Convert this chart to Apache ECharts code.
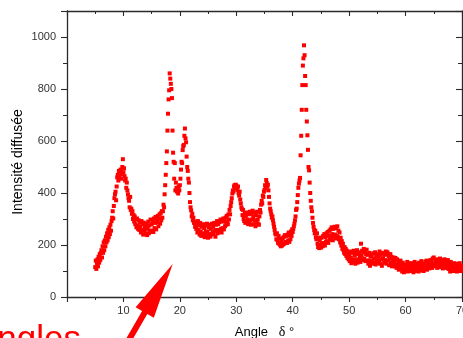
<!DOCTYPE html>
<html>
<head>
<meta charset="utf-8">
<script src="https://cdn.jsdelivr.net/npm/echarts@6/dist/echarts.min.js"></script>
<style>
html,body{margin:0;padding:0;background:#fff;}
#chart{width:463px;height:338px;}
</style>
</head>
<body>
<div id="chart"></div>
<script>
// Angle values (degrees)
const angles05 = [
5.0,5.1,5.2,5.3,5.4,5.5,5.6,5.7,5.8,5.9,
6.0,6.1,6.2,6.3,6.4,6.5,6.6,6.7,6.8,6.9,
7.0,7.1,7.2,7.3,7.4,7.5,7.6,7.7,7.8,7.9,
8.0,8.1,8.2,8.3,8.4,8.5,8.6,8.7,8.8,8.9,
9.0,9.1,9.2,9.3,9.4,9.5,9.6,9.7,9.8,9.9];
const angles10 = [
10.0,10.1,10.2,10.3,10.4,10.5,10.6,10.7,10.8,10.9,
11.0,11.1,11.2,11.3,11.4,11.5,11.6,11.7,11.8,11.9,
12.0,12.1,12.2,12.3,12.4,12.5,12.6,12.7,12.8,12.9,
13.0,13.1,13.2,13.3,13.4,13.5,13.6,13.7,13.8,13.9,
14.0,14.1,14.2,14.3,14.4,14.5,14.6,14.7,14.8,14.9,
15.0,15.1,15.2,15.3,15.4,15.5,15.6,15.7,15.8,15.9,
16.0,16.1,16.2,16.3,16.4,16.5,16.6,16.7,16.8,16.9,
17.0,17.1,17.2,17.3,17.4,17.5,17.6,17.7,17.8,17.9,
18.0,18.1,18.2,18.3,18.4,18.5,18.6,18.7,18.8,18.9,
19.0,19.1,19.2,19.3,19.4,19.5,19.6,19.7,19.8,19.9];
const angles20 = [
20.0,20.1,20.2,20.3,20.4,20.5,20.6,20.7,20.8,20.9,
21.0,21.1,21.2,21.3,21.4,21.5,21.6,21.7,21.8,21.9,
22.0,22.1,22.2,22.3,22.4,22.5,22.6,22.7,22.8,22.9,
23.0,23.1,23.2,23.3,23.4,23.5,23.6,23.7,23.8,23.9,
24.0,24.1,24.2,24.3,24.4,24.5,24.6,24.7,24.8,24.9,
25.0,25.1,25.2,25.3,25.4,25.5,25.6,25.7,25.8,25.9,
26.0,26.1,26.2,26.3,26.4,26.5,26.6,26.7,26.8,26.9,
27.0,27.1,27.2,27.3,27.4,27.5,27.6,27.7,27.8,27.9,
28.0,28.1,28.2,28.3,28.4,28.5,28.6,28.7,28.8,28.9,
29.0,29.1,29.2,29.3,29.4,29.5,29.6,29.7,29.8,29.9];
const angles30 = [
30.0,30.1,30.2,30.3,30.4,30.5,30.6,30.7,30.8,30.9,
31.0,31.1,31.2,31.3,31.4,31.5,31.6,31.7,31.8,31.9,
32.0,32.1,32.2,32.3,32.4,32.5,32.6,32.7,32.8,32.9,
33.0,33.1,33.2,33.3,33.4,33.5,33.6,33.7,33.8,33.9,
34.0,34.1,34.2,34.3,34.4,34.5,34.6,34.7,34.8,34.9,
35.0,35.1,35.2,35.3,35.4,35.5,35.6,35.7,35.8,35.9,
36.0,36.1,36.2,36.3,36.4,36.5,36.6,36.7,36.8,36.9,
37.0,37.1,37.2,37.3,37.4,37.5,37.6,37.7,37.8,37.9,
38.0,38.1,38.2,38.3,38.4,38.5,38.6,38.7,38.8,38.9,
39.0,39.1,39.2,39.3,39.4,39.5,39.6,39.7,39.8,39.9];
const angles40 = [
40.0,40.1,40.2,40.3,40.4,40.5,40.6,40.7,40.8,40.9,
41.0,41.1,41.2,41.3,41.4,41.5,41.6,41.7,41.8,41.9,
42.0,42.1,42.2,42.3,42.4,42.5,42.6,42.7,42.8,42.9,
43.0,43.1,43.2,43.3,43.4,43.5,43.6,43.7,43.8,43.9,
44.0,44.1,44.2,44.3,44.4,44.5,44.6,44.7,44.8,44.9,
45.0,45.1,45.2,45.3,45.4,45.5,45.6,45.7,45.8,45.9,
46.0,46.1,46.2,46.3,46.4,46.5,46.6,46.7,46.8,46.9,
47.0,47.1,47.2,47.3,47.4,47.5,47.6,47.7,47.8,47.9,
48.0,48.1,48.2,48.3,48.4,48.5,48.6,48.7,48.8,48.9,
49.0,49.1,49.2,49.3,49.4,49.5,49.6,49.7,49.8,49.9];
const angles50 = [
50.0,50.1,50.2,50.3,50.4,50.5,50.6,50.7,50.8,50.9,
51.0,51.1,51.2,51.3,51.4,51.5,51.6,51.7,51.8,51.9,
52.0,52.1,52.2,52.3,52.4,52.5,52.6,52.7,52.8,52.9,
53.0,53.1,53.2,53.3,53.4,53.5,53.6,53.7,53.8,53.9,
54.0,54.1,54.2,54.3,54.4,54.5,54.6,54.7,54.8,54.9,
55.0,55.1,55.2,55.3,55.4,55.5,55.6,55.7,55.8,55.9,
56.0,56.1,56.2,56.3,56.4,56.5,56.6,56.7,56.8,56.9,
57.0,57.1,57.2,57.3,57.4,57.5,57.6,57.7,57.8,57.9,
58.0,58.1,58.2,58.3,58.4,58.5,58.6,58.7,58.8,58.9,
59.0,59.1,59.2,59.3,59.4,59.5,59.6,59.7,59.8,59.9];
const angles60 = [
60.0,60.1,60.2,60.3,60.4,60.5,60.6,60.7,60.8,60.9,
61.0,61.1,61.2,61.3,61.4,61.5,61.6,61.7,61.8,61.9,
62.0,62.1,62.2,62.3,62.4,62.5,62.6,62.7,62.8,62.9,
63.0,63.1,63.2,63.3,63.4,63.5,63.6,63.7,63.8,63.9,
64.0,64.1,64.2,64.3,64.4,64.5,64.6,64.7,64.8,64.9,
65.0,65.1,65.2,65.3,65.4,65.5,65.6,65.7,65.8,65.9,
66.0,66.1,66.2,66.3,66.4,66.5,66.6,66.7,66.8,66.9,
67.0,67.1,67.2,67.3,67.4,67.5,67.6,67.7,67.8,67.9,
68.0,68.1,68.2,68.3,68.4,68.5,68.6,68.7,68.8,68.9,
69.0,69.1,69.2,69.3,69.4,69.5,69.6,69.7,69.8,69.9,
70.0];

// Diffused intensity values
const intensity05 = [
115,140,108,130,145,118,155,132,165,142,
170,180,152,195,170,210,180,218,195,232,
210,245,218,258,230,268,242,278,255,292,
305,330,302,350,380,395,405,372,425,460,
470,448,485,462,478,490,455,472,500,530];
const intensity10 = [
480,495,465,448,455,420,440,410,395,380,
370,345,385,335,340,320,330,300,315,290,
310,280,298,268,302,275,262,295,258,288,
272,248,292,258,280,240,286,255,272,245,
262,282,238,268,290,245,275,255,298,250,
280,255,292,250,302,265,285,308,260,295,
288,312,272,302,318,282,322,295,330,305,
330,355,345,395,430,470,515,560,640,705,
760,795,860,840,820,800,765,640,555,520,
455,515,410,440,420,405,415,398,425,410];
const intensity20 = [
430,455,490,520,515,565,580,585,620,648,
610,595,540,500,485,455,440,400,365,345,
333,310,320,295,305,285,290,270,282,262,
280,248,292,258,275,240,285,252,235,270,
245,280,238,265,230,275,250,235,282,252,
228,268,242,278,232,262,240,282,248,270,
242,285,255,232,278,258,292,245,280,252,
288,258,298,262,248,290,265,302,260,292,
272,305,278,312,288,280,318,298,335,318,
350,365,380,398,410,405,425,430,418,432];
const intensity30 = [
428,420,412,425,400,390,405,375,360,345,
338,315,335,300,292,322,285,312,290,325,
298,280,318,290,328,295,278,320,298,332,
308,280,325,295,272,315,288,328,298,280,
278,310,335,325,355,370,360,390,385,405,
412,430,420,450,438,425,432,410,385,360,
340,330,318,305,310,295,282,270,258,245,
240,222,245,218,208,235,205,225,200,195,
215,198,225,202,230,205,238,212,210,235,
208,240,218,248,212,238,222,252,235,260];
const intensity40 = [
250,262,272,282,295,310,335,340,365,392,
420,436,448,458,545,620,720,815,890,918,
968,930,850,815,720,675,622,566,500,487,
440,400,370,345,330,305,285,270,258,245,
255,230,222,245,205,192,228,188,218,200,
190,228,205,195,235,208,242,198,230,212,
245,215,250,208,235,255,220,260,232,268,
242,218,262,232,270,240,225,265,235,272,
230,255,222,248,210,228,198,215,185,205,
180,170,192,165,185,158,178,150,170,145];
const intensity50 = [
165,138,175,152,130,170,145,135,178,142,
160,128,170,145,180,132,165,140,172,150,
135,205,158,178,142,172,185,148,175,138,
165,182,140,162,128,140,170,120,155,135,
162,138,128,168,148,132,172,125,158,142,
165,130,155,140,175,128,162,145,120,168,
148,170,132,162,142,175,128,165,172,140,
158,122,148,165,132,155,118,145,128,152,
138,118,150,125,112,145,120,135,105,128,
118,140,108,125,98,132,112,95,122,105];
const intensity60 = [
125,102,118,135,98,115,130,105,122,100,
112,130,102,122,95,118,135,108,120,100,
128,108,118,98,132,112,125,102,138,115,
108,128,100,122,112,135,115,140,105,125,
118,138,110,130,142,120,135,112,148,125,
152,128,118,142,122,135,112,145,120,138,
128,148,115,135,122,142,110,132,120,145,
122,140,112,135,118,142,108,128,115,98,
135,105,125,112,122,100,130,108,118,105,
115,98,128,108,122,102,130,112,100,120,
110];

// Axis tick values
const xTicks = [0, 10, 20, 30, 40, 50, 60, 70];
const yTicks = [0, 200, 400, 600, 800, 1000];

const allAngles = [].concat(angles05, angles10, angles20, angles30, angles40, angles50, angles60);
const allIntensity = [].concat(intensity05, intensity10, intensity20, intensity30, intensity40, intensity50, intensity60);
const points = allAngles.map((a, i) => [a, allIntensity[i]]);

const AX = '#2a2a2a';
const FONT = '"Liberation Sans", Arial, sans-serif';

const chart = echarts.init(document.getElementById('chart'), null, {renderer: 'canvas'});

const baseX = {
  type: 'value', min: xTicks[0], max: xTicks[xTicks.length - 1], interval: 10,
  splitLine: {show: false},
  axisLine: {show: true, onZero: false, lineStyle: {color: AX, width: 1.3}},
  minorTick: {show: true, splitNumber: 2, length: 3, lineStyle: {color: AX, width: 1}},
  axisTick: {show: true, length: 5, lineStyle: {color: AX, width: 1.1}}
};
const baseY = {
  type: 'value', min: 0, max: 1100, interval: 200,
  splitLine: {show: false},
  axisLine: {show: true, onZero: false, lineStyle: {color: AX, width: 1.3}},
  minorTick: {show: true, splitNumber: 2, length: 4, lineStyle: {color: AX, width: 1}},
  axisTick: {show: true, length: 6, lineStyle: {color: AX, width: 1.1}}
};

chart.setOption({
  animation: false,
  backgroundColor: '#ffffff',
  grid: {left: 67, right: 1, top: 11, bottom: 41, containLabel: false, outerBoundsMode: 'none'},
  xAxis: [
    Object.assign({}, baseX, {
      position: 'bottom',
      name: 'Angle   {d|δ} °',
      nameLocation: 'middle', nameGap: 28,
      nameTextStyle: {color: '#000', fontSize: 13, fontFamily: FONT,
        rich: {d: {fontFamily: '"Liberation Serif", serif', fontSize: 14, color: '#000'}}},
      axisLabel: {show: true, margin: 8, fontSize: 11, color: '#333', fontFamily: FONT,
        showMinLabel: true, showMaxLabel: true,
        formatter: v => (v === 0 ? '' : String(v))}
    }),
    Object.assign({}, baseX, {
      position: 'top',
      axisLabel: {show: false},
      axisTick: Object.assign({}, baseX.axisTick, {inside: true})
    })
  ],
  yAxis: [
    Object.assign({}, baseY, {
      position: 'left',
      axisLabel: {show: true, margin: 11, fontSize: 11, color: '#333', fontFamily: FONT,
        formatter: v => (yTicks.indexOf(v) >= 0 ? String(v) : '')}
    }),
    Object.assign({}, baseY, {
      position: 'right',
      axisLabel: {show: false},
      axisTick: Object.assign({}, baseY.axisTick, {inside: true})
    })
  ],
  series: [{
    type: 'scatter',
    xAxisIndex: 0, yAxisIndex: 0,
    symbol: 'rect', symbolSize: 4,
    itemStyle: {color: '#ff0000', opacity: 1},
    data: points,
    silent: true
  }],
  graphic: [
    {
      type: 'text', z: 100,
      x: 18, y: 162, rotation: Math.PI / 2,
      style: {text: 'Intensité diffusée', x: 0, y: 0, align: 'center', verticalAlign: 'middle',
        font: '14px "Liberation Sans", Arial, sans-serif', fill: '#000'}
    },
    {
      type: 'polygon', z: 100,
      shape: {points: [[172.7, 264], [153.8, 317.8], [147.3, 314], [122.3, 357.3], [117.1, 354.3], [142.1, 311], [135.6, 307.3]]},
      style: {fill: '#ff0000'}
    },
    {
      type: 'text', z: 100,
      style: {text: 'Angles', x: -26, y: 340, verticalAlign: 'middle', align: 'left',
        font: '35px "Liberation Sans", Arial, sans-serif', fill: '#ff0000'}
    }
  ]
});
</script>
</body>
</html>
